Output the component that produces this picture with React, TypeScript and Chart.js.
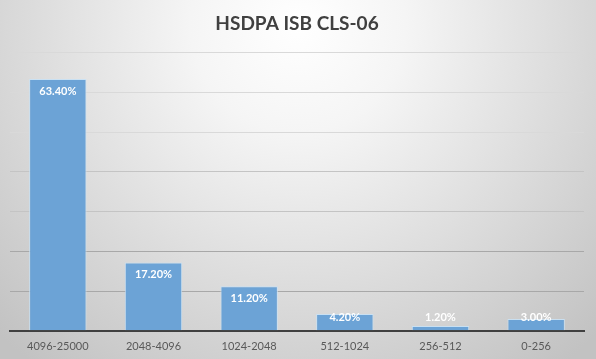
import React, { useEffect, useRef } from "react";
import { Chart, registerables } from "chart.js";

Chart.register(...registerables);

const categories = ["4096-25000", "2048-4096", "1024-2048", "512-1024", "256-512", "0-256"];
const values = [63.4, 17.2, 11.2, 4.2, 1.2, 3.0];
const valueLabels = ["63.40%", "17.20%", "11.20%", "4.20%", "1.20%", "3.00%"];
const titleText = "HSDPA ISB CLS-06";

const FONT = "Lato, 'Open Sans', sans-serif";

const bgPlugin = {
  id: "bgGrad",
  beforeDraw(chart: any) {
    const { ctx, width, height } = chart;
    ctx.save();
    const g = ctx.createRadialGradient(width / 2, 25, 0, width / 2, 25, 430);
    g.addColorStop(0, "#ffffff");
    g.addColorStop(0.25, "#f5f5f5");
    g.addColorStop(1, "#c2c2c2");
    ctx.fillStyle = g;
    ctx.fillRect(0, 0, width, height);
    ctx.restore();
  },
};

const labelPlugin = {
  id: "barLabels",
  afterDatasetsDraw(chart: any) {
    const { ctx } = chart;
    const meta = chart.getDatasetMeta(0);
    const base = chart.scales.y.getPixelForValue(0);
    ctx.save();
    ctx.fillStyle = "#ffffff";
    ctx.font = `bold 11px ${FONT}`;
    ctx.textAlign = "center";
    ctx.textBaseline = "middle";
    meta.data.forEach((bar: any, i: number) => {
      const y = Math.min(bar.y + 12, base - 13);
      ctx.fillText(valueLabels[i], bar.x, y);
    });
    ctx.restore();
  },
};

export default function App() {
  const ref = useRef<HTMLCanvasElement>(null);
  useEffect(() => {
    document.body.style.margin = "0";
    const chart = new Chart(ref.current!, {
      type: "bar",
      data: {
        labels: categories,
        datasets: [
          {
            data: values,
            backgroundColor: "#6ca3d6",
            borderColor: "rgba(200,225,245,0.9)",
            borderWidth: 1,
            categoryPercentage: 1,
            barPercentage: 0.6,
          },
        ],
      },
      options: {
        animation: false,
        responsive: false,
        layout: { padding: { left: 10, right: 12, top: 0, bottom: -3 } },
        plugins: {
          legend: { display: false },
          tooltip: { enabled: false },
          title: {
            display: true,
            text: titleText,
            color: "#404040",
            font: { family: FONT, size: 19, weight: "bold" },
            padding: { top: 12, bottom: 18 },
          },
        },
        scales: {
          x: {
            grid: { display: false, drawTicks: false },
            border: { display: true, color: "#404040", width: 2 },
            ticks: { color: "#595959", font: { family: FONT, size: 11 }, padding: 9 },
          },
          y: {
            min: 0,
            max: 70,
            ticks: { display: false, stepSize: 10 },
            grid: {
              drawTicks: false,
              color: (c: any) => (c.tick && c.tick.value <= 20 ? "#a8a8a8" : c.tick && c.tick.value <= 40 ? "#c4c4c4" : "#d9d9d9"),
              lineWidth: 1,
            },
            border: { display: false },
          },
        },
      },
      plugins: [bgPlugin, labelPlugin],
    });
    return () => chart.destroy();
  }, []);
  return (
    <div style={{ width: 596, height: 359 }}>
      <canvas ref={ref} width={596} height={359} style={{ display: "block" }} />
    </div>
  );
}
